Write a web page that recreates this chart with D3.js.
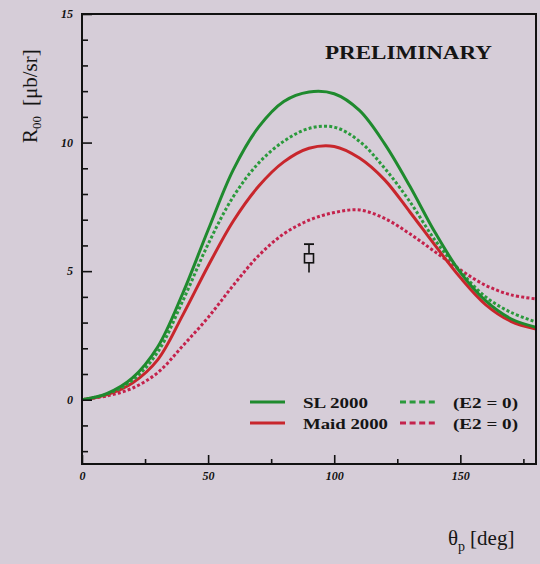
<!DOCTYPE html>
<html>
<head>
<meta charset="utf-8">
<script src="https://cdn.jsdelivr.net/npm/d3@7"></script>
<style>
  html, body { margin: 0; padding: 0; background: #d6cdd8; }
  svg { display: block; }
</style>
</head>
<body>
<script>
// ---- Data ----
const thetaDeg = [0, 10, 20, 30, 40, 50, 60, 70, 80, 90, 100, 110, 120, 130, 140, 150, 160, 170, 180];
const sl2000     = [0, 0.25, 0.85, 2.05, 4.15, 6.6, 8.95, 10.6, 11.6, 11.97, 11.9, 11.25, 9.95, 8.3, 6.5, 4.95, 3.85, 3.15, 2.82];
const sl2000E2   = [0, 0.22, 0.75, 1.85, 3.85, 6.05, 7.9, 9.2, 10.05, 10.55, 10.6, 10.05, 9.0, 7.7, 6.2, 5.0, 4.0, 3.4, 3.02];
const maid2000   = [0, 0.2, 0.65, 1.55, 3.3, 5.2, 6.95, 8.3, 9.25, 9.78, 9.85, 9.4, 8.55, 7.3, 6.0, 4.75, 3.7, 3.05, 2.75];
const maid2000E2 = [0, 0.15, 0.45, 1.05, 2.1, 3.2, 4.45, 5.6, 6.45, 6.98, 7.28, 7.38, 7.05, 6.45, 5.75, 5.05, 4.45, 4.08, 3.92];
const dataTheta = [90];
const dataValue = [5.5];
const dataErrLo = [4.95];
const dataErrHi = [6.05];
const xMajorTicks = [0, 50, 100, 150];
const xMinorTicks = [25, 75, 125, 175];
const yMajorTicks = [0, 5, 10, 15];
const yMinorTicks = [-2, -1, 1, 2, 3, 4, 6, 7, 8, 9, 11, 12, 13, 14];
const seriesNames = ["SL 2000", "Maid 2000", "(E2 = 0)", "(E2 = 0)"];

const W = 540, H = 564;
const svg = d3.select("body").append("svg").attr("width", W).attr("height", H);
const bg = "#d6cdd8";
svg.append("rect").attr("width", W).attr("height", H).attr("fill", bg);

const x = d3.scaleLinear().domain([0, 180]).range([82, 536]);
const y = d3.scaleLinear().domain([-2.5, 15]).range([464, 14]);

const green = "#1f8a2e", greenD = "#2b9a3c", red = "#c8262c", redD = "#c4224c";

const line = d3.line().x(d => x(d[0])).y(d => y(d[1])).curve(d3.curveCatmullRom.alpha(0.5));
const series = [
  {vals: maid2000E2, color: redD, dash: "3,2.2"},
  {vals: maid2000, color: red, dash: null},
  {vals: sl2000E2, color: greenD, dash: "3,2.2"},
  {vals: sl2000, color: green, dash: null}
];
const plot = svg.append("g");
plot.append("clipPath").attr("id", "clip").append("rect")
  .attr("x", x(0)).attr("y", y(15)).attr("width", x(180) - x(0)).attr("height", y(-2.5) - y(15));
const curves = plot.append("g").attr("clip-path", "url(#clip)");
series.forEach(s => {
  curves.append("path")
    .datum(thetaDeg.map((t, i) => [t, s.vals[i]]))
    .attr("d", line)
    .attr("fill", "none")
    .attr("stroke", s.color)
    .attr("stroke-width", 3)
    .attr("stroke-dasharray", s.dash);
});

// Axes (ticks inward)
const axisG = svg.append("g");
const xAxisMajor = d3.axisBottom(x).tickValues(xMajorTicks).tickSize(-9).tickFormat(d3.format("d"));
const xAxisMinor = d3.axisBottom(x).tickValues(xMinorTicks).tickSize(-5).tickFormat("");
const yAxisMajor = d3.axisLeft(y).tickValues(yMajorTicks).tickSize(-10).tickFormat(d3.format("d"));
const yAxisMinor = d3.axisLeft(y).tickValues(yMinorTicks).tickSize(-6).tickFormat("");

function styleAxis(g) {
  g.select(".domain").remove();
  g.selectAll(".tick line").attr("stroke", "#111").attr("stroke-width", 1.6);
  g.selectAll(".tick text")
    .attr("fill", "#111")
    .style("font-family", "'Liberation Serif', 'DejaVu Serif', serif")
    .style("font-style", "italic")
    .style("font-weight", "bold")
    .style("font-size", "12px");
}
axisG.append("g").attr("transform", `translate(0,${y(-2.5)})`).call(xAxisMinor).call(styleAxis);
const gx = axisG.append("g").attr("transform", `translate(0,${y(-2.5)})`).call(xAxisMajor).call(styleAxis);
gx.selectAll(".tick text").attr("dy", "0.95em").attr("y", 5);
axisG.append("g").attr("transform", `translate(${x(0)},0)`).call(yAxisMinor).call(styleAxis);
const gy = axisG.append("g").attr("transform", `translate(${x(0)},0)`).call(yAxisMajor).call(styleAxis);
gy.selectAll(".tick text").attr("x", -9);

// Frame
svg.append("rect")
  .attr("x", x(0)).attr("y", y(15))
  .attr("width", x(180) - x(0)).attr("height", y(-2.5) - y(15))
  .attr("fill", "none").attr("stroke", "#111").attr("stroke-width", 2);

// Data point with error bar
const pts = svg.append("g");
dataTheta.forEach((t, i) => {
  const cx = x(t), cy = y(dataValue[i]);
  pts.append("line").attr("x1", cx).attr("x2", cx).attr("y1", y(dataErrHi[i])).attr("y2", y(dataErrLo[i]))
    .attr("stroke", "#111").attr("stroke-width", 1.6);
  pts.append("line").attr("x1", cx - 5).attr("x2", cx + 5).attr("y1", y(dataErrHi[i])).attr("y2", y(dataErrHi[i]))
    .attr("stroke", "#111").attr("stroke-width", 1.8);
  pts.append("rect").attr("x", cx - 4.5).attr("y", cy - 4.5).attr("width", 9).attr("height", 9)
    .attr("fill", bg).attr("stroke", "#111").attr("stroke-width", 1.6);
});

const serif = "'Liberation Serif', 'DejaVu Serif', serif";

// PRELIMINARY
svg.append("text").attr("x", 325).attr("y", 59).text("PRELIMINARY")
  .attr("font-family", serif).attr("font-weight", "bold").attr("font-size", 18)
  .attr("textLength", 167).attr("lengthAdjust", "spacingAndGlyphs").attr("fill", "#151515");

// Legend
const leg = svg.append("g");
const legRows = [
  {y: 402, solid: green, dashed: greenD, label: seriesNames[0], w: 65},
  {y: 423, solid: red, dashed: redD, label: seriesNames[1], w: 85}
];
legRows.forEach(r => {
  leg.append("line").attr("x1", 250).attr("x2", 285).attr("y1", r.y).attr("y2", r.y)
    .attr("stroke", r.solid).attr("stroke-width", 3);
  leg.append("line").attr("x1", 400).attr("x2", 437).attr("y1", r.y).attr("y2", r.y)
    .attr("stroke", r.dashed).attr("stroke-width", 3).attr("stroke-dasharray", "6,3.6");
  leg.append("text").attr("x", 303).attr("y", r.y + 5.5).text(r.label)
    .attr("font-family", serif).attr("font-weight", "bold").attr("font-size", 15)
    .attr("textLength", r.w).attr("lengthAdjust", "spacingAndGlyphs").attr("fill", "#151515");
  leg.append("text").attr("x", 453).attr("y", r.y + 5.5).text(seriesNames[2])
    .attr("font-family", serif).attr("font-weight", "bold").attr("font-size", 15)
    .attr("textLength", 65).attr("lengthAdjust", "spacingAndGlyphs").attr("fill", "#151515");
});

// Y axis title (rotated)
const yt = svg.append("text")
  .attr("transform", "translate(37,143) rotate(-90)")
  .attr("font-family", serif).attr("font-size", 21).attr("fill", "#151515");
yt.append("tspan").text("R");
yt.append("tspan").attr("font-size", 13).attr("dy", 4).text("00");
yt.append("tspan").attr("dy", -4).attr("dx", 10).text("[μb/sr]");

// X axis title
const xt = svg.append("text").attr("x", 448).attr("y", 545)
  .attr("font-family", serif).attr("font-size", 21).attr("fill", "#151515");
xt.append("tspan").text("θ");
xt.append("tspan").attr("font-size", 14).attr("dy", 6).text("p");
xt.append("tspan").attr("dy", -6).attr("dx", 5).text("[deg]");
</script>
</body>
</html>
